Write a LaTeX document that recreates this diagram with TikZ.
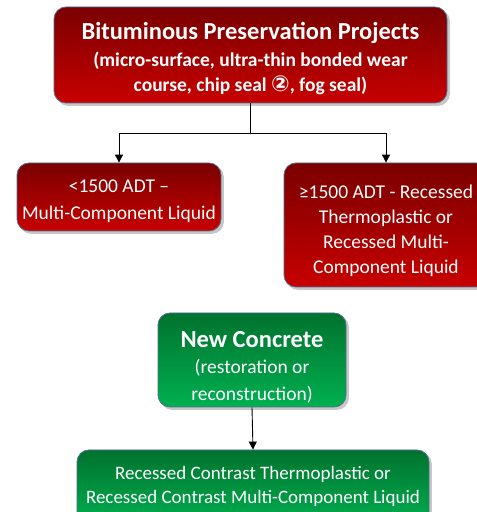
\documentclass[tikz,border=0pt]{standalone}
\usepackage{fontspec}
\setmainfont{Carlito}
\newfontfamily\dejavu{DejaVu Sans}
\usetikzlibrary{arrows.meta,backgrounds}
\definecolor{redtop}{HTML}{7A0000}
\definecolor{redbot}{HTML}{C80000}
\definecolor{grntop}{HTML}{00722E}
\definecolor{grnbot}{HTML}{00B050}
\definecolor{edge}{HTML}{4F6D8F}
\tikzset{
  box/.style={draw=edge, line width=0.8pt, rounded corners=12pt, text=white, align=center, inner sep=0pt},
  redbox/.style={box, top color=redtop, bottom color=redbot},
  grnbox/.style={box, top color=grntop, bottom color=grnbot},
  body/.style={font=\fontsize{19.5}{26.5}\selectfont},
  shad/.style={fill=black, opacity=0.22, rounded corners=12pt},
  conn/.style={draw=black, line width=0.9pt, -{Triangle[length=8pt,width=8pt]}}
}
\newcommand{\ttl}[1]{{\fontsize{24.5}{27}\selectfont\bfseries #1}}
\begin{document}
\begin{tikzpicture}[x=1pt,y=1pt]
\useasboundingbox (0,0) rectangle (477,512);
\node[redbox, body, minimum width=393pt, minimum height=96pt] (top) at (250.5,457)
 {\ttl{Bituminous Preservation Projects}\\
  \textbf{(micro-surface, ultra-thin bonded wear}\\[-1.5pt]
  \textbf{course, chip seal {\dejavu\bfseries\fontsize{22}{22}\selectfont ②}, fog seal)}\\[-30.5pt]};
\node[redbox, body, minimum width=204pt, minimum height=68pt] (left) at (119,315)
 {<1500 ADT --\\ Multi-Component Liquid\\[-31.5pt]};
\node[redbox, body, minimum width=204pt, minimum height=124pt] (right) at (386,287)
 {≥1500 ADT - Recessed\\[-1.5pt] Thermoplastic or\\[-1.5pt] Recessed Multi-\\[-1.5pt] Component Liquid\\[-34.5pt]};
\node[grnbox, body, minimum width=188pt, minimum height=94pt] (conc) at (252,152)
 {\ttl{New Concrete}\\ (restoration or\\ reconstruction)\\[-37.5pt]};
\node[grnbox, minimum width=352pt, minimum height=76pt, font=\fontsize{19}{24}\selectfont] (bot) at (253,24)
 {Recessed Contrast Thermoplastic or\\ Recessed Contrast Multi-Component Liquid\\[-18pt]};
\begin{scope}[on background layer]
\foreach \n in {top,left,right,conc,bot}
  \fill[shad] ([xshift=2.5pt,yshift=-2.5pt]\n.south west) rectangle ([xshift=2.5pt,yshift=-2.5pt]\n.north east);
\end{scope}
\coordinate (split) at (250,379);
\draw[line width=0.9pt] (top.south -| split) -- (split);
\draw[conn] (split) -| (left.north);
\draw[conn] (split) -| (right.north);
\draw[conn] (conc.south) -- (bot.north);
\end{tikzpicture}
\end{document}
